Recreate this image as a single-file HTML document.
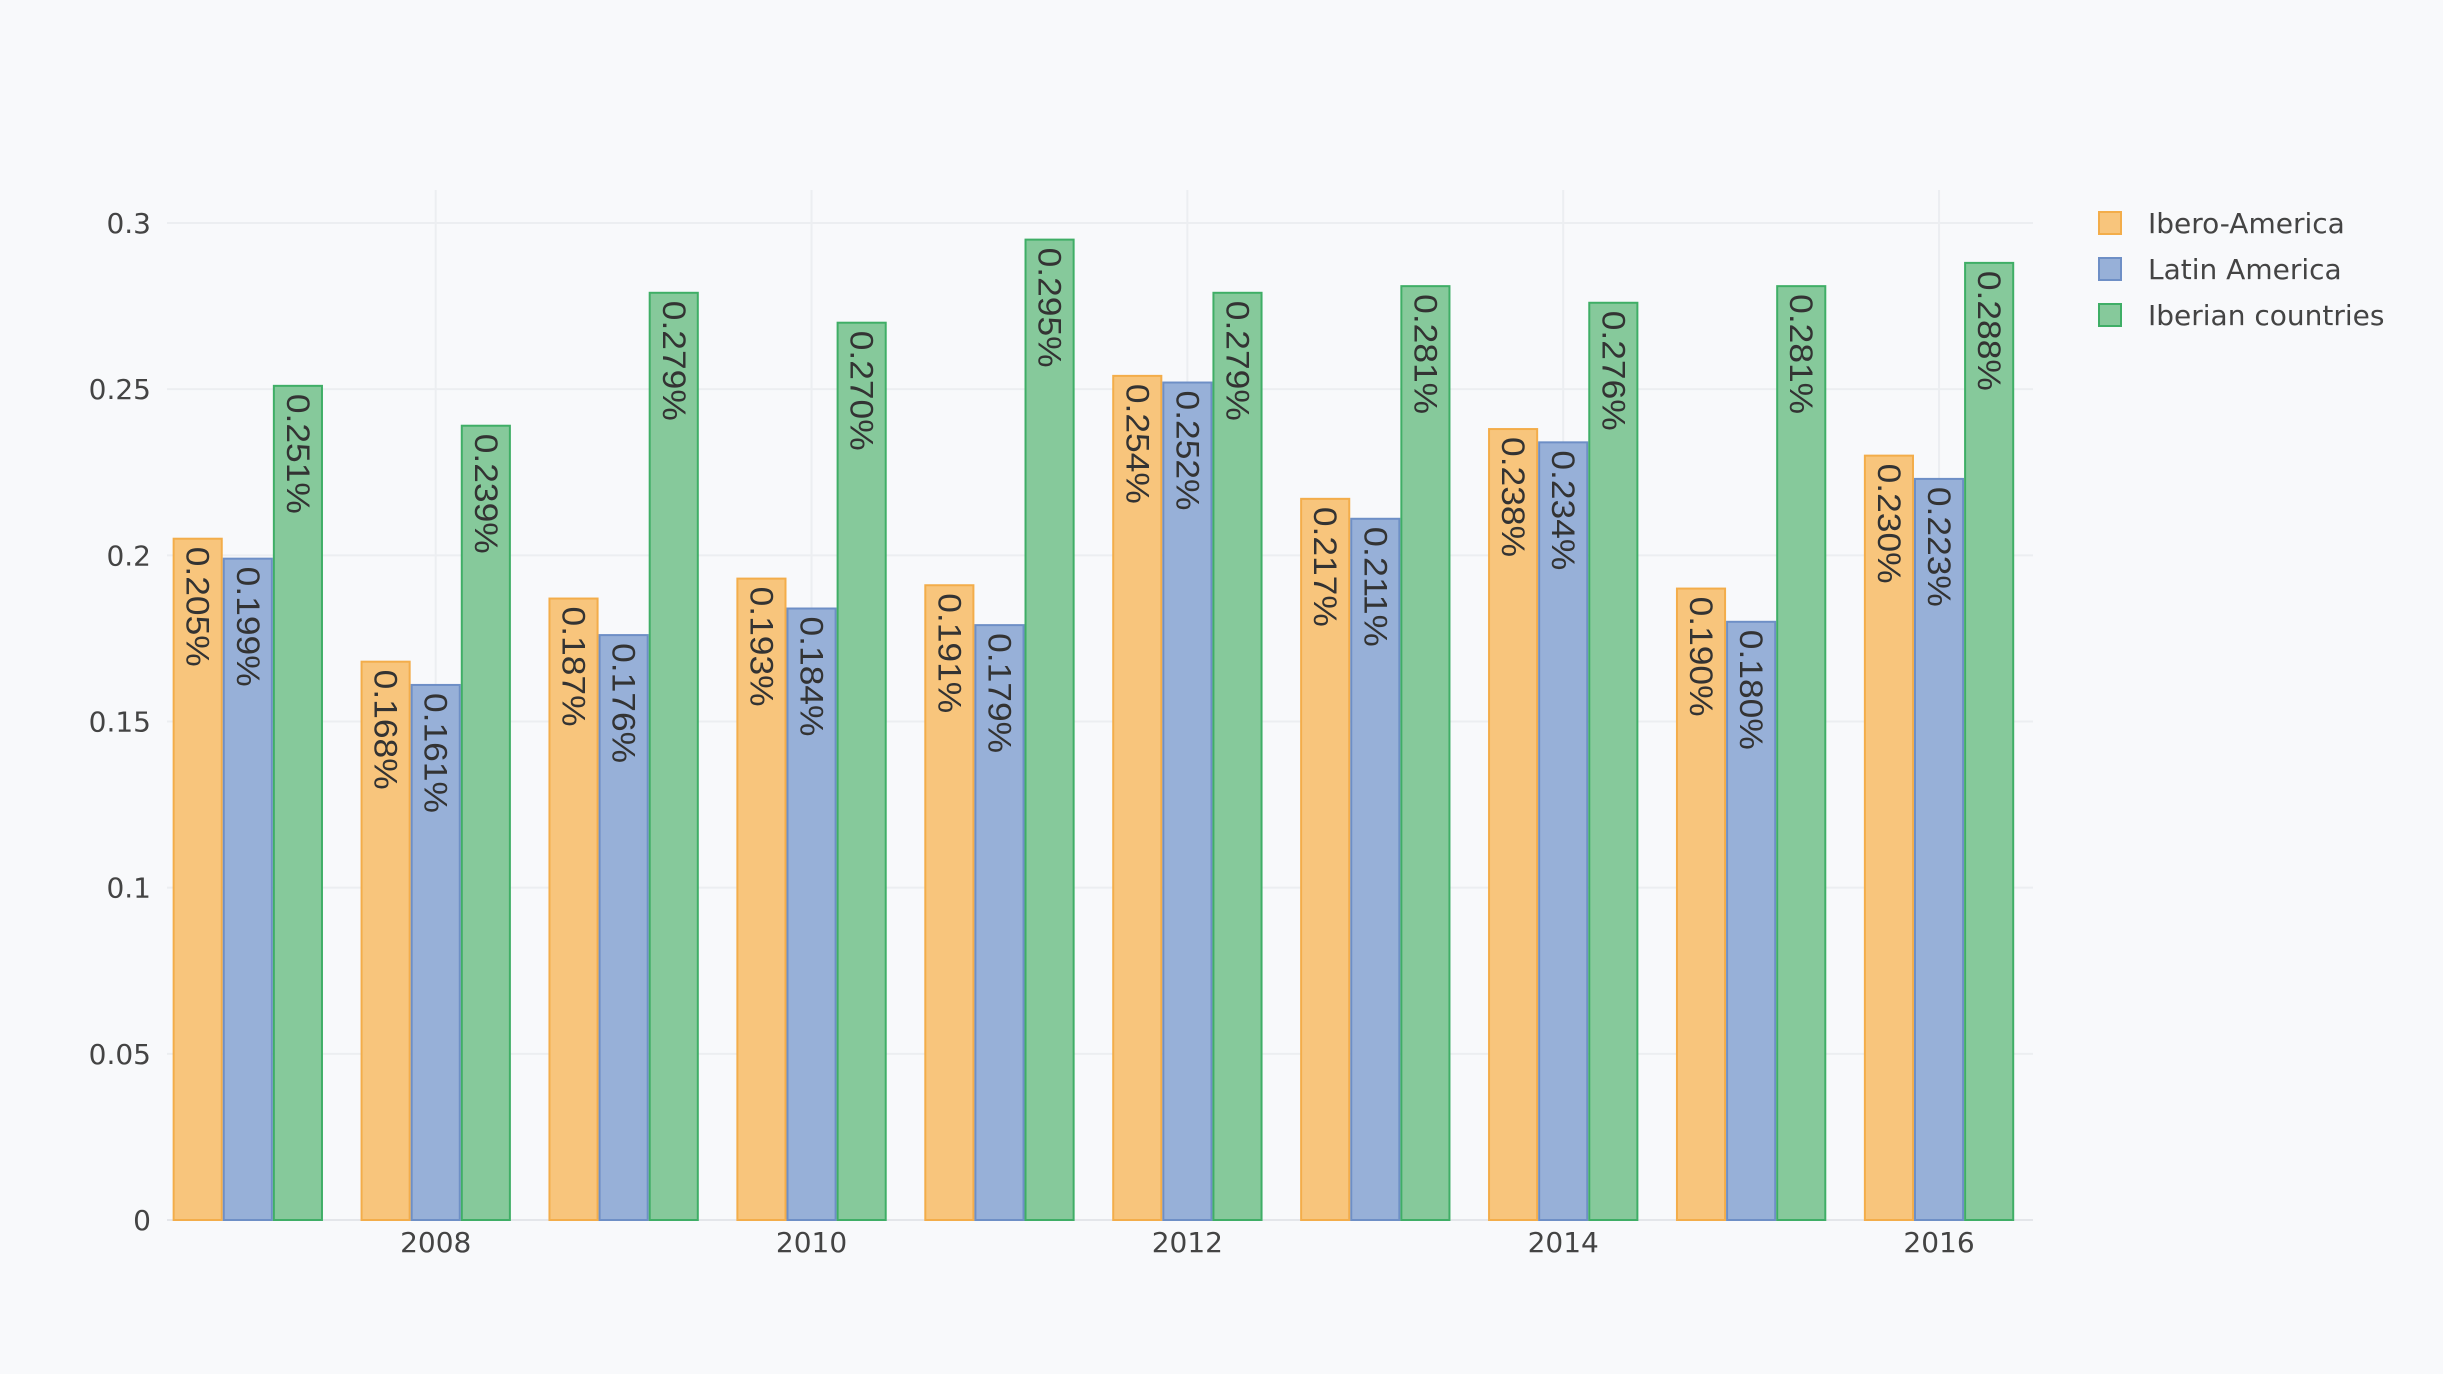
<!DOCTYPE html>
<html><head><meta charset="utf-8"><style>
html,body{margin:0;padding:0;background:#f8f9fb;}
svg{display:block;font-family:"DejaVu Sans","Liberation Sans",sans-serif;}
</style></head><body>
<svg id="chart" width="2443" height="1374" viewBox="0 0 2443 1374">
<rect width="2443" height="1374" fill="#f8f9fb"/>
<g id="grid"></g><g id="bars"></g><g id="labels"></g><g id="axes"></g><g id="legend"></g>
</svg>
<script>
const years = [2007,2008,2009,2010,2011,2012,2013,2014,2015,2016];
const iberoAmerica = [0.205,0.168,0.187,0.193,0.191,0.254,0.217,0.238,0.190,0.230];
const latinAmerica = [0.199,0.161,0.176,0.184,0.179,0.252,0.211,0.234,0.180,0.223];
const iberianCountries = [0.251,0.239,0.279,0.270,0.295,0.279,0.281,0.276,0.281,0.288];
const seriesNames = ["Ibero-America","Latin America","Iberian countries"];
const yTicks = [0,0.05,0.1,0.15,0.2,0.25,0.3];
const xTicks = [2008,2010,2012,2014,2016];

const NS="http://www.w3.org/2000/svg";
const L=167,R=2033,T=223,B=1220;
const xMin=2006.57,xMax=2016.5,yMax=0.3;
const xs=v=>L+(v-xMin)/(xMax-xMin)*(R-L);
const ys=v=>B-v/yMax*(B-T);
const step=xs(1)-xs(0), bw=step*0.8/3;
function mk(tag,attrs,parent){const e=document.createElementNS(NS,tag);for(const k in attrs)e.setAttribute(k,attrs[k]);parent.appendChild(e);return e;}
const grid=document.getElementById('grid'),bars=document.getElementById('bars'),labels=document.getElementById('labels'),axes=document.getElementById('axes'),legend=document.getElementById('legend');
yTicks.forEach(t=>{
  const ln=mk('line',{x1:L,x2:R,y1:ys(t),y2:ys(t),stroke:t===0?'#e4e6ea':'#eceef1','stroke-width':2},grid);
  
  
  const tx=mk('text',{x:151,y:ys(t)+10,'text-anchor':'end','font-size':28,fill:'#444'},axes);
  tx.textContent=String(t);
  
  
});
xTicks.forEach(t=>{
  const ln=mk('line',{x1:xs(t),x2:xs(t),y1:190,y2:B,stroke:'#eceef1','stroke-width':2},grid);
  
  
  const tx=mk('text',{x:xs(t),y:1252,'text-anchor':'middle','font-size':28,fill:'#444'},axes);
  tx.textContent=String(t);
  
  
});
const fills=['#f8c57c','#97b0d8','#86c99b'], strokes=['#f3ad4a','#6e8fc6','#3fae66'];
const data=[iberoAmerica,latinAmerica,iberianCountries];
data.forEach((arr,s)=>{
  arr.forEach((v,i)=>{
    const x0=xs(years[i])-1.5*bw+s*bw, y0=ys(v);
    const r=mk('rect',{x:x0+1,y:y0,width:bw-2,height:B-y0,fill:fills[s],stroke:strokes[s],'stroke-width':2},bars);
    
    
    const cx=x0+bw/2, ty=y0+8;
    const tx=mk('text',{x:cx,y:ty,'font-size':32,fill:'#333','font-family':'Liberation Sans, sans-serif','dominant-baseline':'central',textLength:120,lengthAdjust:'spacingAndGlyphs',transform:`rotate(90 ${cx} ${ty})`},labels);
    tx.textContent=v.toFixed(3)+'%';
    
    
  });
});
seriesNames.forEach((n,s)=>{
  const y=223+s*46;
  const g=mk('g',{},legend);
  
  
  mk('rect',{x:2099,y:y-11,width:22,height:22,fill:fills[s],stroke:strokes[s],'stroke-width':2},g);
  const tx=mk('text',{x:2148,y:y+10,'font-size':28,fill:'#444'},g);
  tx.textContent=n;
});
</script>
</body></html>
